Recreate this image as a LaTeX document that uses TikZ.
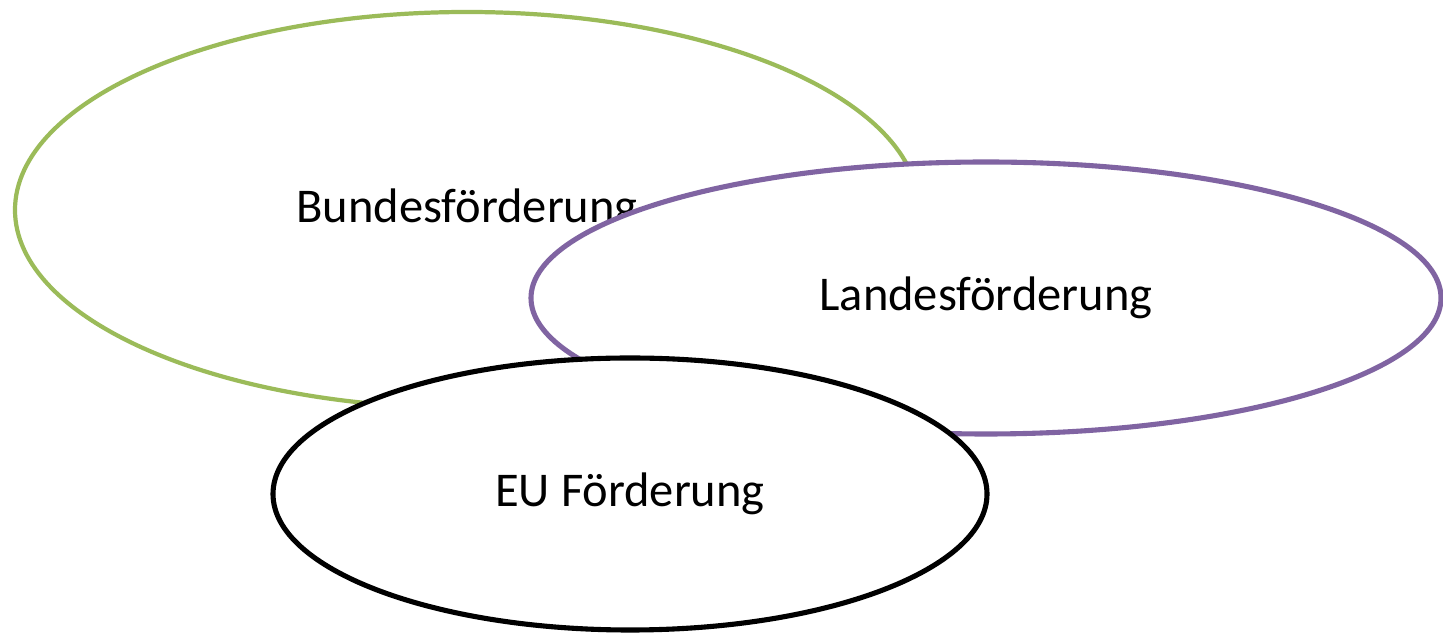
\documentclass[tikz,border=0pt]{standalone}
\usepackage{fontspec}
\setmainfont{Carlito}
\usepackage{tikz}
\usetikzlibrary{shapes.geometric, positioning}

\definecolor{bundgreen}{HTML}{9BBB59}
\definecolor{landpurple}{HTML}{8064A2}

\begin{document}
\begin{tikzpicture}[
        foerder/.style={draw, shape=ellipse, fill=white, align=center, inner sep=0pt, line width=1.45pt, font=\fontsize{13.8}{16}\selectfont},
        bund/.style={foerder, draw=bundgreen, line width=1.2pt, minimum width=9.04cm, minimum height=3.96cm},
        land/.style={foerder, draw=landpurple, minimum width=9.1cm, minimum height=2.72cm},
        eu/.style={foerder, draw=black, minimum width=7.14cm, minimum height=2.72cm}
    ]

    \useasboundingbox (0,0) rectangle (14.43,-6.33);

    % Nodes
    \node [bund] (bundes) at (4.67,-2.1) {Bundesförderung};
    \node [land] (landes) at (9.86,-2.98) {Landesförderung};
    \node [eu] (eu) at (6.30,-4.94) {EU Förderung};

\end{tikzpicture}
\end{document}
